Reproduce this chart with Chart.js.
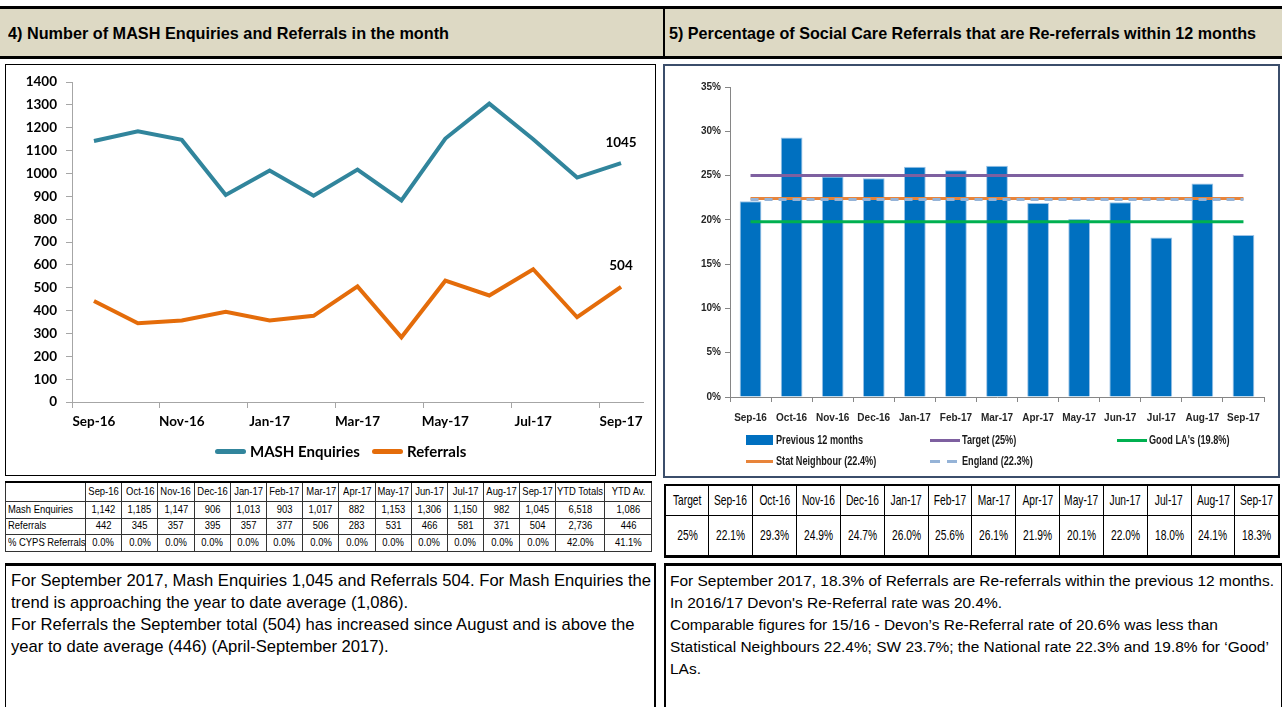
<!DOCTYPE html>
<html>
<head>
<meta charset="utf-8">
<script src="https://cdn.jsdelivr.net/npm/chart.js@4.4.0/dist/chart.umd.min.js"></script>
<style>
body{margin:0;width:1282px;height:707px;position:relative;overflow:hidden;background:#fff;color:#000;
  font-family:"Liberation Sans",Arial,sans-serif}
.fit{display:inline-block;white-space:nowrap;transform-origin:0 50%}
td .fit{transform-origin:50% 50%;margin:0 -60px}
.hdr{position:absolute;top:6px;height:53px;background:#ddd9c4;border-top:3px solid #000;border-bottom:3px solid #000;
  box-sizing:border-box;font-weight:bold;font-size:16.5px;line-height:48px;padding-left:8px;white-space:nowrap;overflow:hidden}
.box{position:absolute;box-sizing:border-box}
table{border-collapse:collapse;table-layout:fixed;position:absolute}
td{padding:0;text-align:center;white-space:nowrap;line-height:1}
#t1 td{border:1px solid #333;font-size:11.5px}
#t1 tr:first-child td{border-top:2px solid #000}
#t1 td.lbl{text-align:left;padding-left:2px}
#t1 td.lbl .fit{transform-origin:0 50%;margin:0}
#t2{border:2px solid #000;border-bottom:3px solid #000}
#t2 td{border:1px solid #000;font-size:14.5px}
.txt{position:absolute;box-sizing:border-box;border-top:3px solid #000;white-space:nowrap;line-height:22px;overflow:hidden}
.lg{position:absolute;font-weight:bold;font-size:13px;color:#1a1a1a;white-space:nowrap;line-height:14px}
.lg1{position:absolute;font-family:Lato,sans-serif;font-weight:bold;font-size:15px;color:#000;white-space:nowrap;line-height:18px}
.sw{position:absolute}
</style>
</head>
<body>
<div class="hdr" id="h1" style="left:0;width:665px;border-right:2px solid #000"><span class="fit">4) Number of MASH Enquiries and Referrals in the month</span></div>
<div class="hdr" id="h2" style="left:665px;width:617px;padding-left:4px"><span class="fit">5) Percentage of Social Care Referrals that are Re-referrals within 12 months</span></div>

<div class="box" style="left:5px;top:64px;width:651px;height:412px;border:1px solid #000">
  <div style="position:absolute;left:0;top:0;width:649px;height:410px"><canvas id="c1"></canvas></div>
</div>
<div class="box" style="left:663px;top:64px;width:617px;height:414px;border:2px solid #3b4e6b">
  <div style="position:absolute;left:0;top:0;width:613px;height:362px"><canvas id="c2"></canvas></div>
</div>

<div id="lg1"></div>
<div id="lg2"></div>

<table id="t1" style="left:5px;top:481px;width:647px"></table>
<table id="t2" style="left:664px;top:484px;width:616px"></table>

<div class="txt" id="x1" style="left:5px;top:563px;width:651px;height:150px;border-left:1px solid #000;border-right:2px solid #000;font-size:17px;padding:4px 5px">
<div><span class="fit">For September 2017, Mash Enquiries 1,045 and Referrals 504. For Mash Enquiries the</span></div>
<div><span class="fit">trend is approaching the year to date average (1,086).</span></div>
<div><span class="fit">For Referrals the September total (504) has increased since August and is above the</span></div>
<div><span class="fit">year to date average (446) (April-September 2017).</span></div>
</div>
<div class="txt" id="x2" style="left:664px;top:563px;width:618px;height:150px;border-left:2px solid #000;border-right:1px solid #000;font-size:15.5px;padding:4px 4px">
<div><span class="fit">For September 2017, 18.3% of Referrals are Re-referrals within the previous 12 months.</span></div>
<div><span class="fit">In 2016/17 Devon's Re-Referral rate was 20.4%.</span></div>
<div><span class="fit">Comparable figures for 15/16 - Devon’s Re-Referral rate of 20.6% was less than</span></div>
<div><span class="fit">Statistical Neighbours 22.4%; SW 23.7%; the National rate 22.3% and 19.8% for ‘Good’</span></div>
<div><span class="fit">LAs.</span></div>
</div>

<script>
const months = ['Sep-16','Oct-16','Nov-16','Dec-16','Jan-17','Feb-17','Mar-17','Apr-17','May-17','Jun-17','Jul-17','Aug-17','Sep-17'];
const mashEnquiries = [1142,1185,1147,906,1013,903,1017,882,1153,1306,1150,982,1045];
const referrals = [442,345,357,395,357,377,506,283,531,466,581,371,504];
const cypsReferrals = [0.0,0.0,0.0,0.0,0.0,0.0,0.0,0.0,0.0,0.0,0.0,0.0,0.0];
const ytdTotals = ['6,518','2,736','42.0%'];
const ytdAv = ['1,086','446','41.1%'];

const rereferrals = [22.1,29.3,24.9,24.7,26.0,25.6,26.1,21.9,20.1,22.0,18.0,24.1,18.3];
const targetLine = [25,25,25,25,25,25,25,25,25,25,25,25,25];
const statNeighbour = [22.4,22.4,22.4,22.4,22.4,22.4,22.4,22.4,22.4,22.4,22.4,22.4,22.4];
const england = [22.3,22.3,22.3,22.3,22.3,22.3,22.3,22.3,22.3,22.3,22.3,22.3,22.3];
const goodLAs = [19.8,19.8,19.8,19.8,19.8,19.8,19.8,19.8,19.8,19.8,19.8,19.8,19.8];
const targetText = '25%';

const sans = '"Liberation Sans",Arial,sans-serif';

// squeeze a group of spans so that the first one has the given width (the original uses a narrow font)
function fit(spans, width) {
  const k = width / spans[0].getBoundingClientRect().width;
  spans.forEach(s => { s.style.transform = 'scaleX(' + k + ')'; });
}
const sp = t => '<span class="fit">' + t + '</span>';

// tables
const fmt = n => n.toLocaleString('en-GB');
let h = '<colgroup><col style="width:80px">' + months.map(()=>'<col style="width:36.2px">').join('') +
  '<col style="width:49px"><col style="width:47px"></colgroup>';
h += '<tr style="height:19px"><td class="lbl"></td>' + months.map(m=>'<td>'+sp(m)+'</td>').join('') + '<td>'+sp('YTD Totals')+'</td><td>'+sp('YTD Av.')+'</td></tr>';
h += '<tr style="height:17px"><td class="lbl">'+sp('Mash Enquiries')+'</td>' + mashEnquiries.map(v=>'<td>'+sp(fmt(v))+'</td>').join('') + '<td>'+sp(ytdTotals[0])+'</td><td>'+sp(ytdAv[0])+'</td></tr>';
h += '<tr style="height:16px"><td class="lbl">'+sp('Referrals')+'</td>' + referrals.map(v=>'<td>'+sp(fmt(v))+'</td>').join('') + '<td>'+sp(ytdTotals[1])+'</td><td>'+sp(ytdAv[1])+'</td></tr>';
h += '<tr style="height:17px"><td class="lbl">'+sp('% CYPS Referrals')+'</td>' + cypsReferrals.map(v=>'<td>'+sp(v.toFixed(1)+'%')+'</td>').join('') + '<td>'+sp(ytdTotals[2])+'</td><td>'+sp(ytdAv[2])+'</td></tr>';
const t1 = document.getElementById('t1');
t1.innerHTML = h;
fit([t1.querySelector('td.lbl .fit'), ...t1.querySelectorAll('.fit')], 65);

let h2 = '<tr style="height:30px"><td>'+sp('Target')+'</td>' + months.map(m=>'<td>'+sp(m)+'</td>').join('') + '</tr>';
h2 += '<tr style="height:41px"><td>'+sp(targetText)+'</td>' + rereferrals.map(v=>'<td>'+sp(v.toFixed(1)+'%')+'</td>').join('') + '</tr>';
const t2 = document.getElementById('t2');
t2.innerHTML = h2;
const t2spans = [...t2.querySelectorAll('td .fit')];
fit([t2spans[1], ...t2spans], 33);

fit([...document.querySelectorAll('#h1 .fit')], 441);
fit([...document.querySelectorAll('#h2 .fit')], 587);
fit([...document.querySelectorAll('#x1 .fit')], 640);
fit([...document.querySelectorAll('#x2 .fit')], 604);

// chart 1
const lastLabels = {
  id: 'lastLabels',
  afterDatasetsDraw(chart) {
    const ctx = chart.ctx;
    chart.data.datasets.forEach((ds, i) => {
      const pts = chart.getDatasetMeta(i).data;
      const p = pts[pts.length - 1];
      ctx.save();
      ctx.font = 'bold 13.5px Lato';
      ctx.fillStyle = '#000';
      ctx.textAlign = 'center';
      ctx.textBaseline = 'middle';
      ctx.fillText(ds.data[ds.data.length - 1], p.x, p.y - 21);
      ctx.restore();
    });
  }
};

const ds1 = [
  {label: 'MASH Enquiries', data: mashEnquiries, borderColor: '#31859c', backgroundColor: '#31859c', borderWidth: 4, pointRadius: 0, tension: 0},
  {label: 'Referrals', data: referrals, borderColor: '#e46c0a', backgroundColor: '#e46c0a', borderWidth: 4, pointRadius: 0, tension: 0}
];

new Chart(document.getElementById('c1'), {
  type: 'line',
  data: {labels: months, datasets: ds1},
  options: {
    responsive: true,
    maintainAspectRatio: false,
    animation: false,
    layout: {padding: {top: 16, right: 12, left: 0, bottom: 39}},
    plugins: {tooltip: {enabled: false}, legend: {display: false}},
    scales: {
      x: {
        offset: true,
        afterFit: s => { s.height = 34; },
        border: {color: '#a6a6a6'},
        grid: {offset: true, drawOnChartArea: false, tickLength: 6,
          color: c => c.index % 2 === 0 ? '#a6a6a6' : 'rgba(0,0,0,0)'},
        ticks: {autoSkip: false, maxRotation: 0, padding: 6, color: '#000',
          font: {family: 'Lato', weight: 'bold', size: 13.5},
          callback: (v, i) => i % 2 === 0 ? months[i] : ''}
      },
      y: {
        min: 0, max: 1400,
        afterFit: s => { s.width = 66; },
        border: {color: '#a6a6a6'},
        grid: {drawOnChartArea: false, tickLength: 6, color: '#a6a6a6'},
        ticks: {stepSize: 100, padding: 9, color: '#000', font: {family: 'Lato', weight: 'bold', size: 13.5},
          callback: v => String(v)}
      }
    }
  },
  plugins: [lastLabels]
});

// legend for chart 1 (centred a little left of the plot, as in the original)
const key1 = [[215, 451], [372, 451]];
let l1 = '';
ds1.forEach((d, i) => {
  const [x, y] = key1[i];
  l1 += `<div class="sw" style="left:${x}px;top:${y-2}px;width:31px;height:5px;border-radius:2.5px;background:${d.borderColor}"></div>`;
  l1 += `<div class="lg1" style="left:${x+35}px;top:${y-9}px">${d.label}</div>`;
});
document.getElementById('lg1').innerHTML = l1;

// chart 2
const ds2 = [
  {type: 'bar', label: 'Previous 12 months', data: rereferrals, backgroundColor: '#0070c0', borderColor: '#9dc3e6',
    borderWidth: {top: 1, left: 1, right: 1, bottom: 0}, barPercentage: 0.53, categoryPercentage: 1, order: 10},
  {type: 'line', label: 'Target (25%)', data: targetLine, borderColor: '#7e60a0', borderWidth: 3, pointRadius: 0, order: 2},
  {type: 'line', label: "Good LA's (19.8%)", data: goodLAs, borderColor: '#00b050', borderWidth: 3, pointRadius: 0, order: 1},
  {type: 'line', label: 'Stat Neighbour (22.4%)', data: statNeighbour, borderColor: '#e8843a', borderWidth: 3, pointRadius: 0, order: 4},
  {type: 'line', label: 'England (22.3%)', data: england, borderColor: '#95b3d7', borderWidth: 3, borderDash: [8, 6], pointRadius: 0, order: 3}
];

new Chart(document.getElementById('c2'), {
  type: 'bar',
  data: {labels: months, datasets: ds2},
  options: {
    responsive: true,
    maintainAspectRatio: false,
    animation: false,
    layout: {padding: {top: 21, right: 14, left: 0, bottom: 0}},
    plugins: {legend: {display: false}, tooltip: {enabled: false}},
    scales: {
      x: {
        afterFit: s => { s.height = 31; },
        border: {color: '#868686'},
        grid: {offset: true, drawOnChartArea: false, tickLength: 5, color: '#868686'},
        ticks: {autoSkip: false, maxRotation: 0, padding: 10, color: '#262626',
          font: {family: sans, weight: 'bold', size: 10}}
      },
      y: {
        min: 0, max: 35,
        afterFit: s => { s.width = 65; },
        border: {color: '#868686'},
        grid: {drawOnChartArea: false, tickLength: 5, color: '#868686'},
        ticks: {stepSize: 5, padding: 4, color: '#262626', font: {family: sans, weight: 'bold', size: 10},
          callback: v => v + '%'}
      }
    }
  }
});

// legend for chart 2, laid out like the original three-column key
const keyPos = [[746, 440], [930, 440], [1117, 440], [746, 461], [930, 461]];
let lg = '';
ds2.forEach((d, i) => {
  const [x, y] = keyPos[i];
  const col = d.type === 'bar' ? d.backgroundColor : d.borderColor;
  if (d.type === 'bar') {
    lg += `<div class="sw" style="left:${x}px;top:${y-5}px;width:27px;height:10px;background:${col}"></div>`;
  } else if (d.borderDash) {
    lg += `<div class="sw" style="left:${x}px;top:${y-1}px;width:10px;height:3px;background:${col}"></div>`;
    lg += `<div class="sw" style="left:${x+17}px;top:${y-1}px;width:10px;height:3px;background:${col}"></div>`;
  } else {
    lg += `<div class="sw" style="left:${x}px;top:${y-1}px;width:${i === 3 ? 27 : 30}px;height:3px;background:${col}"></div>`;
  }
  lg += `<div class="lg" style="left:${x + (d.type === 'bar' || i === 3 ? 30 : 32)}px;top:${y-7}px">${sp(d.label)}</div>`;
});
const lg2 = document.getElementById('lg2');
lg2.innerHTML = lg;
fit([...lg2.querySelectorAll('.fit')], 87);
</script>
</body>
</html>
